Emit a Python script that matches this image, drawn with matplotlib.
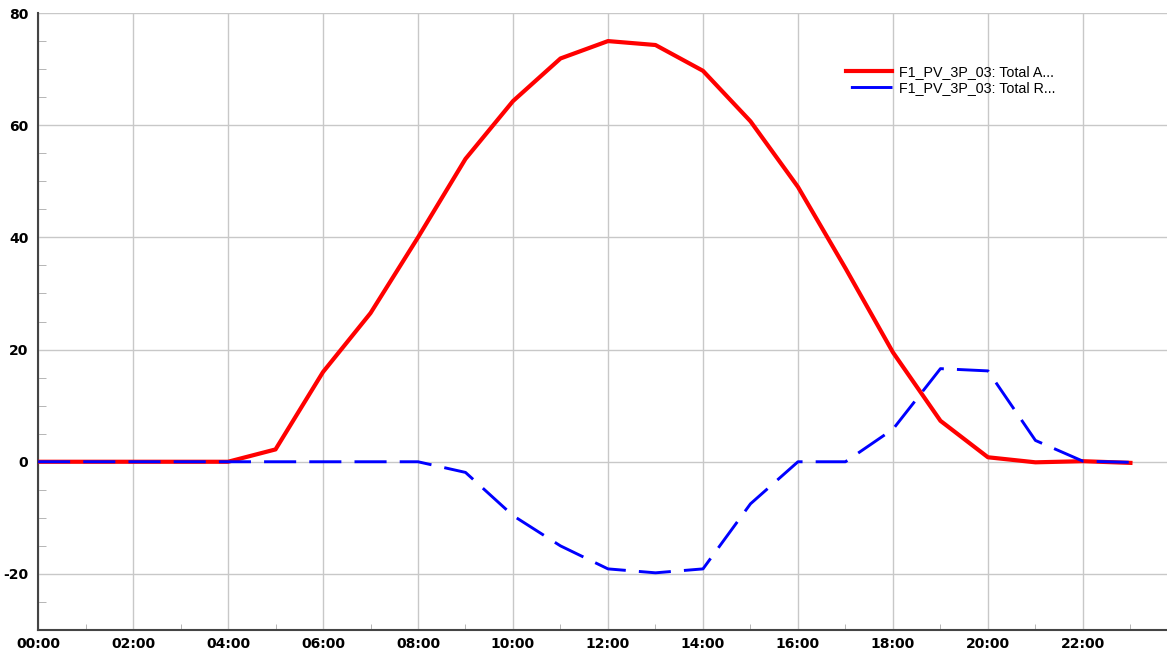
import numpy as np
import matplotlib
matplotlib.use('Agg')
from matplotlib import pyplot as plt
from matplotlib.ticker import MultipleLocator, FuncFormatter

# hourly readings
hours = list(range(24))
active_kw = [0, 0, 0, 0, 0, 2.2, 16.0, 26.5, 40.0, 54.0, 64.3, 71.9,
             75.0, 74.3, 69.7, 60.7, 49.0, 34.5, 19.5, 7.3, 0.8, -0.1, 0.1, -0.2]
reactive_kvar = [0, 0, 0, 0, 0, 0, 0, 0, 0, -1.9, -9.6, -15.0,
                 -19.1, -19.8, -19.1, -7.5, 0, 0, 5.8, 16.6, 16.2, 3.8, 0.1, -0.1]
series_labels = ['F1_PV_3P_03: Total A...', 'F1_PV_3P_03: Total R...']

plt.rcParams['axes.unicode_minus'] = False

fig = plt.figure(figsize=(11.67, 6.52), dpi=100)
ax = fig.add_axes([0.0326, 0.0337, 0.9674, 0.9463])

ax.plot(hours, active_kw, color='#ff0000', lw=3, label=series_labels[0], zorder=3)
ax.plot(hours, reactive_kvar, color='#0000ff', lw=2.1, dashes=(11, 4.5), label=series_labels[1], zorder=3)

ax.set_xlim(0, 23.77)
ax.set_ylim(-30, 80)

ax.xaxis.set_major_locator(MultipleLocator(2))
ax.xaxis.set_minor_locator(MultipleLocator(1))
ax.xaxis.set_major_formatter(FuncFormatter(lambda v, p: '%02d:00' % int(round(v))))
ax.yaxis.set_major_locator(MultipleLocator(20))
ax.yaxis.set_minor_locator(MultipleLocator(5))

ax.grid(True, which='major', color='#c8c8c8', lw=1)
ax.set_axisbelow(True)

for s in ['top', 'right']:
    ax.spines[s].set_visible(False)
for s in ['left', 'bottom']:
    ax.spines[s].set_color('#444444')
    ax.spines[s].set_linewidth(1.5)

ax.tick_params(which='major', length=0, labelsize=10)
ax.tick_params(axis='x', which='major', pad=5)
ax.tick_params(axis='y', which='major', pad=7)
ax.tick_params(axis='y', which='minor', direction='in', length=6, color='#aaaaaa')
ax.tick_params(axis='x', which='minor', direction='in', length=4, color='#aaaaaa')
for lbl in ax.get_xticklabels() + ax.get_yticklabels():
    lbl.set_fontweight('bold')

leg = ax.legend(loc='upper left', bbox_to_anchor=(0.716, 0.915), frameon=False,
                prop={'family': 'Liberation Sans', 'size': 10.3}, handlelength=3.2,
                handletextpad=0.5, labelspacing=0.12, borderpad=0, borderaxespad=0)
# legend shows one single dash for the reactive series
leg.get_lines()[1].set_linestyle((0, (0, 1.5, 25, 100)))

fig.savefig('out.png', dpi=100)
